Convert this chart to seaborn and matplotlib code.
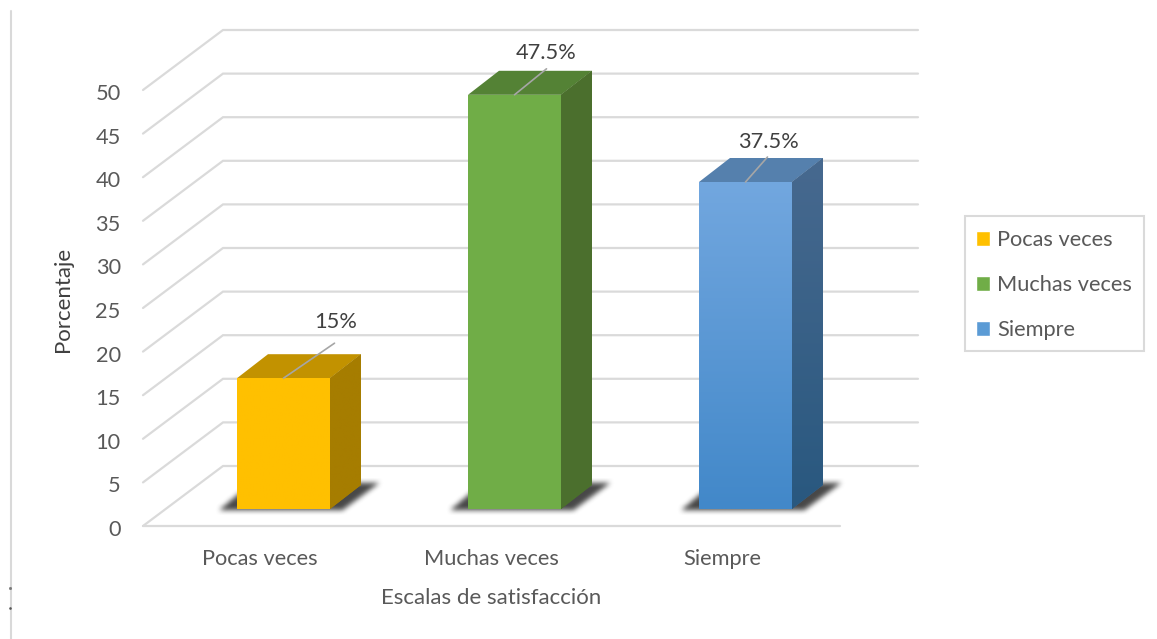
import matplotlib
matplotlib.use("Agg")
import numpy as np
import pandas as pd
import seaborn as sns
import matplotlib.pyplot as plt
from matplotlib.patches import Polygon, Rectangle
from matplotlib.path import Path
from matplotlib.lines import Line2D
from matplotlib.colors import LinearSegmentedColormap
from matplotlib.transforms import Affine2D

# ---- data ----
categories = ["Pocas veces", "Muchas veces", "Siempre"]
values = [15, 47.5, 37.5]
value_labels = ["15%", "47.5%", "37.5%"]
y_ticks = [0, 5, 10, 15, 20, 25, 30, 35, 40, 45, 50]
x_title = "Escalas de satisfacción"
y_title = "Porcentaje"

# ---- styles ----
front_top = ["#FFC000", "#70AD47", "#72A7DF"]
front_bottom = ["#FFC000", "#70AD47", "#4288C9"]
top_face = ["#C29200", "#548235", "#5580AD"]
side_top = ["#A67D00", "#4B6F2D", "#47698F"]
side_bottom = ["#A67D00", "#4B6F2D", "#29587F"]
legend_colors = ["#FFC000", "#70AD47", "#5B9BD5"]
GRID = "#DADADA"
TEXT = "#595959"
FS = 15.7

sns.set_style("white")
plt.rcParams["font.family"] = ["Lato", "DejaVu Sans"]

W, H = 1157, 639
fig = plt.figure(figsize=(W / 100, H / 100), dpi=100)
L, R, B, T = 143, 918, 526, 30
ax = fig.add_axes([L / W, 1 - B / H, (R - L) / W, (B - T) / H])
PX = 1 / 231.0          # category units per pixel
PY = 1 / 8.72           # value units per pixel
XMIN = -(260 - L) * PX
XMAX = XMIN + (R - L) * PX
FLOOR_END = XMIN + (840 - L) * PX
YMAX = (B - T) * PY
ax.set_xlim(XMIN, XMAX)
ax.set_ylim(0, YMAX)

WALL_DX, WALL_DY = 80 * PX, 60 * PY
BAR_W = 93 * PX
BAR_DX, BAR_DY = 31 * PX, 24 * PY
SHIFT_X, BASE_Y = 23.5 * PX, 17 * PY

# grid on both walls
for v in y_ticks:
    ax.plot([XMIN, XMIN + WALL_DX, XMAX], [v, v + WALL_DY, v + WALL_DY],
            color=GRID, lw=1.6, zorder=1, clip_on=False, solid_joinstyle="miter")
ax.plot([XMIN, FLOOR_END], [0, 0], color=GRID, lw=1.6, zorder=1, clip_on=False)

# bars
df = pd.DataFrame({"cat": categories, "val": values})
sns.barplot(data=df, x="cat", y="val", hue="cat", hue_order=categories,
            palette=legend_colors, width=BAR_W, saturation=1, dodge=False,
            legend=True, ax=ax, zorder=5)
bars = [p for p in ax.patches][:3]


def gradient(poly, c1, c2, y1, y2, z):
    cmap = LinearSegmentedColormap.from_list("g", [c1, c2])
    xs = poly.get_xy()[:, 0]
    im = ax.imshow(np.linspace(0, 1, 128)[:, None], cmap=cmap, aspect="auto", origin="upper",
                   extent=(xs.min(), xs.max(), y1, y2), zorder=z, interpolation="bilinear")
    im.set_clip_path(poly)


def soft_shadow(poly, blur=11, strength=0.9):
    """Soft floor shadow: rasterise the polygon at one sample per pixel and smooth it."""
    pts = np.array(poly)
    pad_x, pad_y = 16 * PX, 12 * PY
    xs = np.arange(pts[:, 0].min() - pad_x, pts[:, 0].max() + pad_x, PX)
    ys = np.arange(pts[:, 1].min() - pad_y, pts[:, 1].max() + pad_y, PY)
    gx, gy = np.meshgrid(xs, ys)
    mask = Path(pts).contains_points(np.c_[gx.ravel(), gy.ravel()]).reshape(gx.shape).astype(float)
    kernel = np.bartlett(blur + 2)[1:-1]
    kernel = kernel / kernel.sum()
    mask = np.apply_along_axis(lambda r: np.convolve(r, kernel, mode="same"), 0, mask)
    mask = np.apply_along_axis(lambda r: np.convolve(r, kernel, mode="same"), 1, mask)
    rgba = np.zeros(mask.shape + (4,))
    rgba[..., :3] = 0.2
    rgba[..., 3] = np.clip(mask * strength, 0, 1)
    ax.imshow(rgba, aspect="auto", origin="lower", zorder=3, interpolation="bilinear",
              extent=(xs[0], xs[-1], ys[0], ys[-1]))


for i, (bar, v) in enumerate(zip(bars, values)):
    bar.set_x(bar.get_x() + SHIFT_X)
    bar.set_y(BASE_Y)
    bar.set_linewidth(0)
    x0, x1 = bar.get_x(), bar.get_x() + BAR_W
    y0, y1 = BASE_Y, BASE_Y + v
    soft_shadow([(x0 - 19 * PX, y0 - 2 * PY), (x1 + 12 * PX, y0 - 2 * PY),
                 (x1 + 49 * PX, y0 + 26 * PY), (x0 + 14 * PX, y0 + 26 * PY)])
    # top and side faces
    ax.add_patch(Polygon([(x0, y1), (x1, y1), (x1 + BAR_DX, y1 + BAR_DY), (x0 + BAR_DX, y1 + BAR_DY)],
                         closed=True, facecolor=top_face[i], edgecolor="none", zorder=5))
    side = Polygon([(x1, y0), (x1 + BAR_DX, y0 + BAR_DY), (x1 + BAR_DX, y1 + BAR_DY), (x1, y1)],
                   closed=True, facecolor=side_top[i], edgecolor="none", zorder=5)
    ax.add_patch(side)
    gradient(side, side_top[i], side_bottom[i], y0, y1 + BAR_DY, 5.1)
    gradient(Polygon(bar.get_corners(), closed=True, transform=ax.transData),
             front_top[i], front_bottom[i], y0, y1, 5.2)
ax.set_xlim(XMIN, XMAX)
ax.set_ylim(0, YMAX)

# data labels with leader lines (offsets in pixels)
leader = [(51, 35), (32, 26), (22, 25)]
label_off = [(52, 56), (32, 42), (23, 40)]
for bar, v, txt, lo, to in zip(bars, values, value_labels, leader, label_off):
    xy = (bar.get_x() + BAR_W / 2, BASE_Y + v)
    ax.annotate("", xy=xy, xytext=lo, textcoords="offset pixels",
                arrowprops=dict(arrowstyle="-", color="#A6A6A6", lw=1.2, shrinkA=0, shrinkB=0),
                zorder=7, annotation_clip=False)
    ax.annotate(txt, xy=xy, xytext=to, textcoords="offset pixels", ha="center", va="center",
                fontsize=FS, color="#404040", zorder=7, annotation_clip=False)

# axes
sns.despine(ax=ax, left=True, bottom=True, top=True, right=True)
ax.set_xticks(range(len(categories)), categories)
ax.set_yticks(y_ticks, [str(t) for t in y_ticks])
ax.tick_params(axis="x", length=0, pad=16.5, labelsize=FS, labelcolor=TEXT)
ax.tick_params(axis="y", length=0, pad=16, labelsize=FS, labelcolor=TEXT)
for lab in ax.get_yticklabels():
    lab.set_transform(lab.get_transform() + Affine2D().translate(0, -2))
ax.set_xlabel(x_title, fontsize=16, color=TEXT, va="center")
ax.set_ylabel(y_title, fontsize=16, color="#404040", va="center")
ax.xaxis.set_label_coords((491 - L) / (R - L), (B - 598.5) / (B - T))
ax.yaxis.set_label_coords((63 - L) / (R - L), (B - 299) / (B - T))

# legend: frame drawn separately so its padding can differ per side
handles, labels = ax.get_legend_handles_labels()
leg = ax.legend(handles, labels, loc="upper left", bbox_to_anchor=(965 / W, 1 - 219 / H),
                bbox_transform=fig.transFigure, borderaxespad=0, fontsize=FS,
                frameon=False, handlelength=0.65, handleheight=0.7, handletextpad=0.32,
                labelspacing=1.15, borderpad=0.5, labelcolor=TEXT)
fig.add_artist(Rectangle((965 / W, 1 - 351 / H), 179 / W, 135 / H, transform=fig.transFigure,
                         facecolor="none", edgecolor=GRID, lw=1.5))

# stray page rule on the far left
fig.add_artist(Line2D([11 / W, 11 / W], [0, 1 - 11 / H], color="#D9D9D9", lw=1.5))
fig.add_artist(Line2D([9.5 / W], [1 - 588 / H], marker="s", ms=1.0, color="#777777", lw=0))
fig.add_artist(Line2D([9.5 / W], [1 - 608 / H], marker="s", ms=0.8, color="#555555", lw=0))

fig.savefig("out.png", dpi=100, facecolor="white")
